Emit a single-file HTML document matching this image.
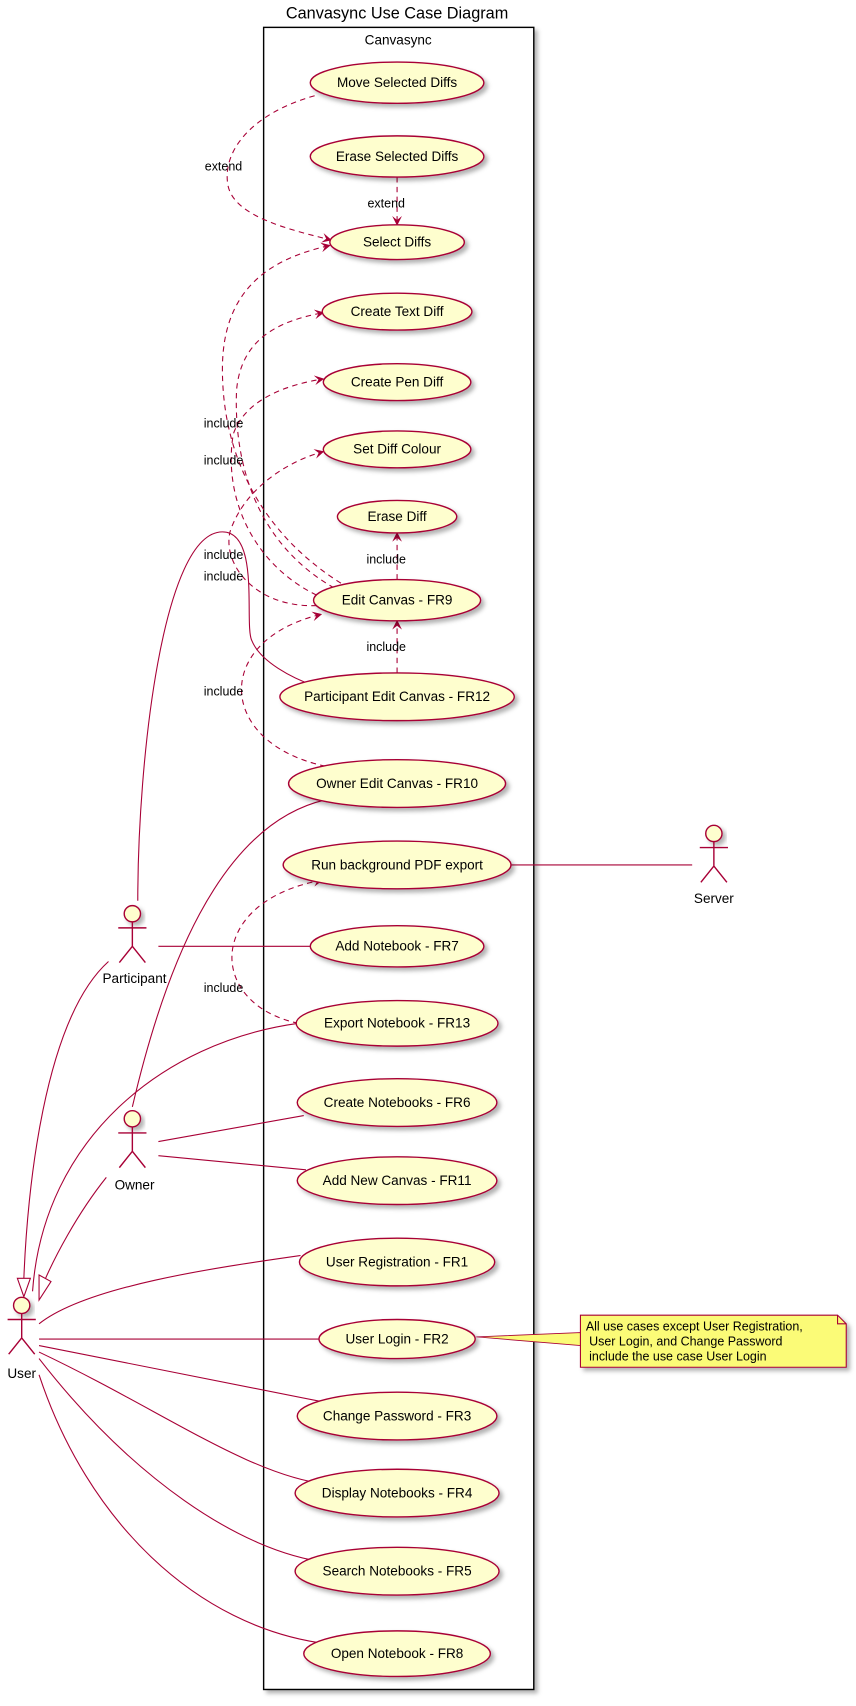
<!DOCTYPE html>
<html><head><meta charset="utf-8"><style>
html,body{margin:0;padding:0;background:#fff;}
svg{display:block;}
text{font-family:"Liberation Sans","DejaVu Sans",sans-serif;fill:#000;}
</style></head><body>
<svg width="856" height="1706" viewBox="0 0 789 1572" xmlns="http://www.w3.org/2000/svg">
<defs>
<filter id="sh" x="-20%" y="-20%" width="150%" height="160%"><feDropShadow dx="3" dy="3" stdDeviation="2" flood-color="#000" flood-opacity="0.3"/></filter>
<marker id="ar" viewBox="0 0 10 10" refX="9" refY="5" markerWidth="9" markerHeight="9" orient="auto" markerUnits="userSpaceOnUse"><path d="M0,0 L10,5 L0,10 L4,5 Z" fill="#A80036"/></marker>
</defs>
<text x="366" y="17" font-size="15" text-anchor="middle">Canvasync Use Case Diagram</text>
<rect x="243" y="25" width="249" height="1532" fill="#fff" stroke="#000" stroke-width="1.3" filter="url(#sh)"/>
<text x="367" y="41" font-size="12.5" text-anchor="middle">Canvasync</text>

<g fill="none" stroke="#A80036" stroke-width="1">
<path d="M127,830 C127,700 150,490 205,490 C240,490 225,575 232,590 C240,610 270,625 290,632"/>
<path d="M122,1020 C150,900 200,760 300,737"/>
<path d="M146,872 L286,872"/>
<path d="M471,797 L638,797"/>
<path d="M30,1190 C40,1050 150,960 275,943"/>
<path d="M146,1052 L280,1028"/>
<path d="M146,1065 L282,1078"/>
<path d="M36,1220 C80,1185 200,1168 277,1157"/>
<path d="M36,1234 L294,1234"/>
<path d="M36,1240 L298,1292"/>
<path d="M36,1246 C150,1300 230,1360 302,1368"/>
<path d="M36,1252 C120,1360 220,1430 302,1440"/>
<path d="M36,1267 C80,1400 180,1500 302,1515"/>
<path d="M100,886 C40,940 25,1100 22,1178"/>
<path d="M98,1085 C70,1120 50,1160 42,1178"/>
</g>
<path d="M16,1178 L28,1178 L22,1195 Z" fill="#fff" stroke="#A80036"/>
<path d="M36,1175 L47,1181 L36,1198 Z" fill="#fff" stroke="#A80036"/>

<g fill="none" stroke="#A80036" stroke-width="1" stroke-dasharray="5,4">
<path d="M290,88 C230,105 205,140 210,170 C215,200 270,212 305,221" marker-end="url(#ar)"/>
<path d="M366,163 L366,207" marker-end="url(#ar)"/>
<path d="M322,542 C250,500 205,430 205,340 C205,265 250,238 304,226" marker-end="url(#ar)"/>
<path d="M316,546 C245,510 215,440 218,360 C222,310 260,295 298,288" marker-end="url(#ar)"/>
<path d="M300,552 C235,525 205,460 215,400 C225,370 260,355 298,349" marker-end="url(#ar)"/>
<path d="M292,558 C235,560 205,520 212,490 C225,450 265,425 298,416" marker-end="url(#ar)"/>
<path d="M366,534 L366,491" marker-end="url(#ar)"/>
<path d="M366,620 L366,572" marker-end="url(#ar)"/>
<path d="M300,706 C200,685 195,590 296,566" marker-end="url(#ar)"/>
<path d="M275,943 C190,925 190,830 297,811" marker-end="url(#ar)"/>
</g>

<g font-size="11.5">
<text x="206" y="157" text-anchor="middle">extend</text>
<text x="356" y="191" text-anchor="middle">extend</text>
<text x="206" y="394" text-anchor="middle">include</text>
<text x="206" y="428" text-anchor="middle">include</text>
<text x="206" y="515" text-anchor="middle">include</text>
<text x="206" y="535" text-anchor="middle">include</text>
<text x="356" y="519" text-anchor="middle">include</text>
<text x="356" y="600" text-anchor="middle">include</text>
<text x="206" y="641" text-anchor="middle">include</text>
<text x="206" y="914" text-anchor="middle">include</text>
</g>

<g fill="#FEFECE" stroke="#A80036" stroke-width="1.3" filter="url(#sh)">
<ellipse cx="366" cy="76" rx="80" ry="19"/>
<ellipse cx="366" cy="144" rx="80" ry="19"/>
<ellipse cx="366" cy="223" rx="62" ry="16"/>
<ellipse cx="366" cy="287" rx="69" ry="17"/>
<ellipse cx="366" cy="352" rx="68" ry="17"/>
<ellipse cx="366" cy="414" rx="68" ry="17"/>
<ellipse cx="366" cy="476" rx="55" ry="15"/>
<ellipse cx="366" cy="553" rx="77" ry="19"/>
<ellipse cx="366" cy="642" rx="108" ry="22"/>
<ellipse cx="366" cy="722" rx="100" ry="22"/>
<ellipse cx="366" cy="797" rx="105" ry="22"/>
<ellipse cx="366" cy="872" rx="80" ry="19"/>
<ellipse cx="366" cy="943" rx="93" ry="21"/>
<ellipse cx="366" cy="1016" rx="92" ry="22"/>
<ellipse cx="366" cy="1088" rx="92" ry="22"/>
<ellipse cx="366" cy="1163" rx="90" ry="22"/>
<ellipse cx="366" cy="1234" rx="72" ry="18"/>
<ellipse cx="366" cy="1305" rx="92" ry="22"/>
<ellipse cx="366" cy="1376" rx="94" ry="22"/>
<ellipse cx="366" cy="1448" rx="94" ry="22"/>
<ellipse cx="366" cy="1524" rx="86" ry="21"/>
</g>
<g font-size="12.5" text-anchor="middle">
<text x="366" y="80">Move Selected Diffs</text>
<text x="366" y="148">Erase Selected Diffs</text>
<text x="366" y="227">Select Diffs</text>
<text x="366" y="291">Create Text Diff</text>
<text x="366" y="356">Create Pen Diff</text>
<text x="366" y="418">Set Diff Colour</text>
<text x="366" y="480">Erase Diff</text>
<text x="366" y="557">Edit Canvas - FR9</text>
<text x="366" y="646">Participant Edit Canvas - FR12</text>
<text x="366" y="726">Owner Edit Canvas - FR10</text>
<text x="366" y="801">Run background PDF export</text>
<text x="366" y="876">Add Notebook - FR7</text>
<text x="366" y="947">Export Notebook - FR13</text>
<text x="366" y="1020">Create Notebooks - FR6</text>
<text x="366" y="1092">Add New Canvas - FR11</text>
<text x="366" y="1167">User Registration - FR1</text>
<text x="366" y="1238">User Login - FR2</text>
<text x="366" y="1309">Change Password - FR3</text>
<text x="366" y="1380">Display Notebooks - FR4</text>
<text x="366" y="1452">Search Notebooks - FR5</text>
<text x="366" y="1528">Open Notebook - FR8</text>
</g>

<path d="M439,1232 L535,1228 L535,1240 Z" fill="#FBFB77" stroke="#A80036" stroke-width="0.8"/>
<g filter="url(#sh)">
<path d="M535,1212 L772,1212 L780,1220 L780,1260 L535,1260 Z" fill="#FBFB77" stroke="#A80036" stroke-width="1"/>
<path d="M772,1212 L772,1220 L780,1220" fill="none" stroke="#A80036"/>
</g>
<g font-size="11.5">
<text x="540" y="1226">All use cases except User Registration,</text>
<text x="543" y="1240">User Login, and Change Password</text>
<text x="543" y="1254">include the use case User Login</text>
</g>

<g fill="#FEFECE" stroke="#A80036" stroke-width="1.3">
<g transform="translate(658,768)"><circle cx="0" cy="0" r="7.5" filter="url(#sh)"/><path d="M0,7.5 L0,30 M-13,13 L13,13 M0,30 L-12,45 M0,30 L12,45" fill="none"/></g>
<g transform="translate(122,842)"><circle cx="0" cy="0" r="7.5" filter="url(#sh)"/><path d="M0,7.5 L0,30 M-13,13 L13,13 M0,30 L-12,45 M0,30 L12,45" fill="none"/></g>
<g transform="translate(122,1031)"><circle cx="0" cy="0" r="7.5" filter="url(#sh)"/><path d="M0,7.5 L0,30 M-13,13 L13,13 M0,30 L-12,45 M0,30 L12,45" fill="none"/></g>
<g transform="translate(20,1203)"><circle cx="0" cy="0" r="7.5" filter="url(#sh)"/><path d="M0,7.5 L0,30 M-13,13 L13,13 M0,30 L-12,45 M0,30 L12,45" fill="none"/></g>
</g>
<g font-size="12.5" text-anchor="middle">
<text x="658" y="832">Server</text>
<text x="124" y="906">Participant</text>
<text x="124" y="1096">Owner</text>
<text x="20" y="1270">User</text>
</g>
</svg>
</body></html>
